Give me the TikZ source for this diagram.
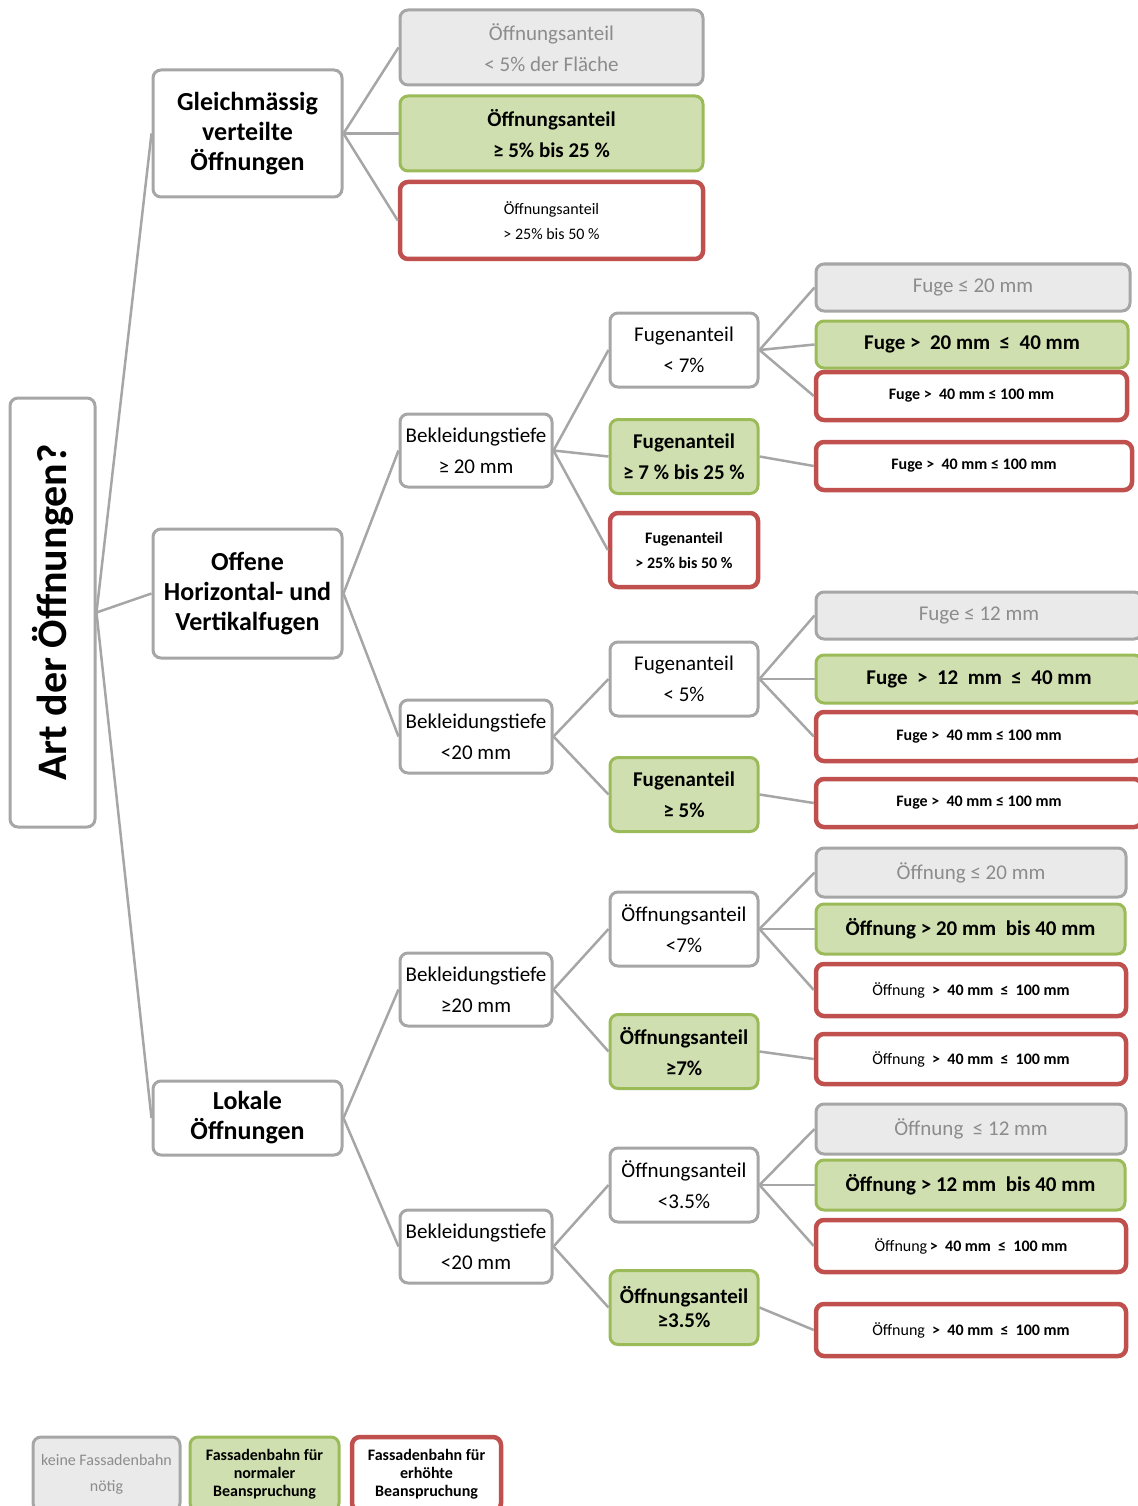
\documentclass[tikz,border=0pt]{standalone}
\usepackage{fontspec}
\setmainfont{Carlito}
\definecolor{lg}{HTML}{A6A6A6}
\definecolor{fg}{HTML}{EAEAEA}
\definecolor{tg}{HTML}{8C8C8C}
\definecolor{gr}{HTML}{9BBB59}
\definecolor{gf}{HTML}{D0DFAF}
\definecolor{rd}{HTML}{C0504D}

\begin{document}
\begin{tikzpicture}[x=1pt,y=-1pt,
	box/.style={draw=lg,fill=white,line width=3pt,rounded corners=8pt,align=center,inner sep=1pt},
	keine/.style={box,fill=fg,text=tg},
	normal/.style={box,draw=gr,fill=gf},
	erhoeht/.style={box,draw=rd,line width=4.5pt},
	verb/.style={draw=lg,line width=2.5pt},
	t42/.style={font=\fontsize{42}{48}\selectfont\bfseries},
	t26/.style={font=\fontsize{26}{30}\selectfont\bfseries},
	t21/.style={font=\fontsize{21}{31}\selectfont},
	t21b/.style={font=\fontsize{21}{31}\selectfont\bfseries},
	t16/.style={font=\fontsize{16}{25}\selectfont},
	t16b/.style={font=\fontsize{16}{25}\selectfont\bfseries},
	leg/.style={font=\fontsize{16}{26}\selectfont},
	legb/.style={font=\fontsize{16}{18}\selectfont\bfseries}]
	\useasboundingbox (0,0) rectangle (1137,1506);

	\node[box,t42,minimum width=85pt,minimum height=429pt] (root) at (52.5,612.5) {\rotatebox{90}{Art der Öffnungen?}};

	\node[box,t26,minimum width=189pt,minimum height=127pt] (gleich) at (247.5,133.5) {Gleichmässig\\verteilte\\Öffnungen};
	\node[box,t26,minimum width=189pt,minimum height=129pt] (offen) at (247.5,593.5) {Offene\\Horizontal- und\\Vertikalfugen};
	\node[box,t26,minimum width=189pt,minimum height=74pt] (lokal) at (247.5,1118) {Lokale\\Öffnungen};

	\node[keine,t21,minimum width=303pt,minimum height=75pt] (a1) at (551.5,47.5) {Öffnungsanteil\\< 5\% der Fläche};
	\node[normal,t21b,minimum width=303pt,minimum height=75pt] (a2) at (551.5,133.5) {Öffnungsanteil\\≥ 5\% bis 25 \%};
	\node[erhoeht,t16,minimum width=303pt,minimum height=77pt] (a3) at (551.5,220.5) {Öffnungsanteil\\> 25\% bis 50 \%};

	\node[box,t21,minimum width=152pt,minimum height=73pt] (b1) at (476,450.5) {Bekleidungstiefe\\≥ 20 mm};
	\node[box,t21,minimum width=152pt,minimum height=73pt] (b2) at (476,736.5) {Bekleidungstiefe\\<20 mm};
	\node[box,t21,minimum width=152pt,minimum height=73pt] (b3) at (476,989.5) {Bekleidungstiefe\\≥20 mm};
	\node[box,t21,minimum width=152pt,minimum height=73pt] (b4) at (476,1246.5) {Bekleidungstiefe\\<20 mm};

	\node[box,t21,minimum width=148pt,minimum height=74pt] (c1) at (684,350) {Fugenanteil\\< 7\%};
	\node[normal,t21b,minimum width=148pt,minimum height=74pt] (c2) at (684,456.5) {Fugenanteil\\≥ 7 \% bis 25 \%};
	\node[erhoeht,t16b,minimum width=148pt,minimum height=74pt] (c3) at (684,550) {Fugenanteil\\> 25\% bis 50 \%};
	\node[box,t21,minimum width=148pt,minimum height=74pt] (c4) at (684,679) {Fugenanteil\\< 5\%};
	\node[normal,t21b,minimum width=148pt,minimum height=74pt] (c5) at (684,794.5) {Fugenanteil\\≥ 5\%};
	\node[box,t21,minimum width=148pt,minimum height=74pt] (c6) at (684,929) {Öffnungsanteil\\<7\%};
	\node[normal,t21b,minimum width=148pt,minimum height=74pt] (c7) at (684,1051.5) {Öffnungsanteil\\≥7\%};
	\node[box,t21,minimum width=148pt,minimum height=74pt] (c8) at (684,1185) {Öffnungsanteil\\<3.5\%};
	\node[normal,font=\fontsize{21}{24}\selectfont\bfseries,minimum width=148pt,minimum height=74pt] (c9) at (684,1307.5) {Öffnungsanteil\\≥3.5\%};

	\node[keine,t21,minimum width=314pt,minimum height=47pt] (d1) at (973,287.5) {Fuge ≤ 20 mm};
	\node[normal,t21b,minimum width=312pt,minimum height=47pt] (d2) at (972,344.5) {Fuge >\ \ 20 mm\ \ ≤\ \ 40 mm};
	\node[erhoeht,t16b,minimum width=311pt,minimum height=48pt] (d3) at (971.5,396) {Fuge >\ \ 40 mm ≤ 100 mm};
	\node[erhoeht,t16b,minimum width=316pt,minimum height=48pt] (d4) at (974,466) {Fuge >\ \ 40 mm ≤ 100 mm};
	\node[keine,t21,minimum width=326pt,minimum height=47pt] (d5) at (979,615.5) {Fuge ≤ 12 mm};
	\node[normal,t21b,minimum width=326pt,minimum height=48pt] (d6) at (979,679) {Fuge\ \ >\ \ 12\ \ mm\ \ ≤\ \ 40 mm};
	\node[erhoeht,t16b,minimum width=326pt,minimum height=49pt] (d7) at (979,736.5) {Fuge >\ \ 40 mm ≤ 100 mm};
	\node[erhoeht,t16b,minimum width=326pt,minimum height=48pt] (d8) at (979,803) {Fuge >\ \ 40 mm ≤ 100 mm};

	\node[keine,t21,minimum width=310pt,minimum height=49pt] (e1) at (971,872.5) {Öffnung ≤ 20 mm};
	\node[normal,t21b,minimum width=309pt,minimum height=50pt] (e2) at (970.5,929) {Öffnung > 20 mm\ \ bis 40 mm};
	\node[erhoeht,t16,minimum width=310pt,minimum height=52pt] (e3) at (971,990) {Öffnung\ \ \textbf{>\ \ 40 mm\ \ ≤\ \ 100 mm}};
	\node[erhoeht,t16,minimum width=310pt,minimum height=50pt] (e4) at (971,1059) {Öffnung\ \ \textbf{>\ \ 40 mm\ \ ≤\ \ 100 mm}};
	\node[keine,t21,minimum width=310pt,minimum height=50pt] (e5) at (971,1129) {Öffnung\ \ ≤ 12 mm};
	\node[normal,t21b,minimum width=309pt,minimum height=50pt] (e6) at (970.5,1185) {Öffnung > 12 mm\ \ bis 40 mm};
	\node[erhoeht,t16,minimum width=310pt,minimum height=52pt] (e7) at (971,1246) {Öffnung\,\textbf{>\ \ 40 mm\ \ ≤\ \ 100 mm}};
	\node[erhoeht,t16,minimum width=310pt,minimum height=52pt] (e8) at (971,1330) {Öffnung\ \ \textbf{>\ \ 40 mm\ \ ≤\ \ 100 mm}};

	\draw[verb] (root.east) -- (gleich.west);
	\draw[verb] (root.east) -- (offen.west);
	\draw[verb] (root.east) -- (lokal.west);
	\draw[verb] (gleich.east) -- (a1.west);
	\draw[verb] (gleich.east) -- (a2.west);
	\draw[verb] (gleich.east) -- (a3.west);
	\draw[verb] (offen.east) -- (b1.west);
	\draw[verb] (offen.east) -- (b2.west);
	\draw[verb] (lokal.east) -- (b3.west);
	\draw[verb] (lokal.east) -- (b4.west);
	\draw[verb] (b1.east) -- (c1.west);
	\draw[verb] (b1.east) -- (c2.west);
	\draw[verb] (b1.east) -- (c3.west);
	\draw[verb] (b2.east) -- (c4.west);
	\draw[verb] (b2.east) -- (c5.west);
	\draw[verb] (b3.east) -- (c6.west);
	\draw[verb] (b3.east) -- (c7.west);
	\draw[verb] (b4.east) -- (c8.west);
	\draw[verb] (b4.east) -- (c9.west);
	\draw[verb] (c1.east) -- (d1.west);
	\draw[verb] (c1.east) -- (d2.west);
	\draw[verb] (c1.east) -- (d3.west);
	\draw[verb] (c2.east) -- (d4.west);
	\draw[verb] (c4.east) -- (d5.west);
	\draw[verb] (c4.east) -- (d6.west);
	\draw[verb] (c4.east) -- (d7.west);
	\draw[verb] (c5.east) -- (d8.west);
	\draw[verb] (c6.east) -- (e1.west);
	\draw[verb] (c6.east) -- (e2.west);
	\draw[verb] (c6.east) -- (e3.west);
	\draw[verb] (c7.east) -- (e4.west);
	\draw[verb] (c8.east) -- (e5.west);
	\draw[verb] (c8.east) -- (e6.west);
	\draw[verb] (c8.east) -- (e7.west);
	\draw[verb] (c9.east) -- (e8.west);

	% Legende
	\node[keine,leg,minimum width=147pt,minimum height=74pt] (k1) at (106.5,1474) {keine Fassadenbahn\\nötig};
	\node[normal,legb,minimum width=149pt,minimum height=74pt] (k2) at (264.5,1474) {Fassadenbahn für\\normaler\\Beanspruchung};
	\node[erhoeht,legb,minimum width=149pt,minimum height=74pt] (k3) at (426.5,1474) {Fassadenbahn für\\erhöhte\\Beanspruchung};
\end{tikzpicture}
\end{document}
